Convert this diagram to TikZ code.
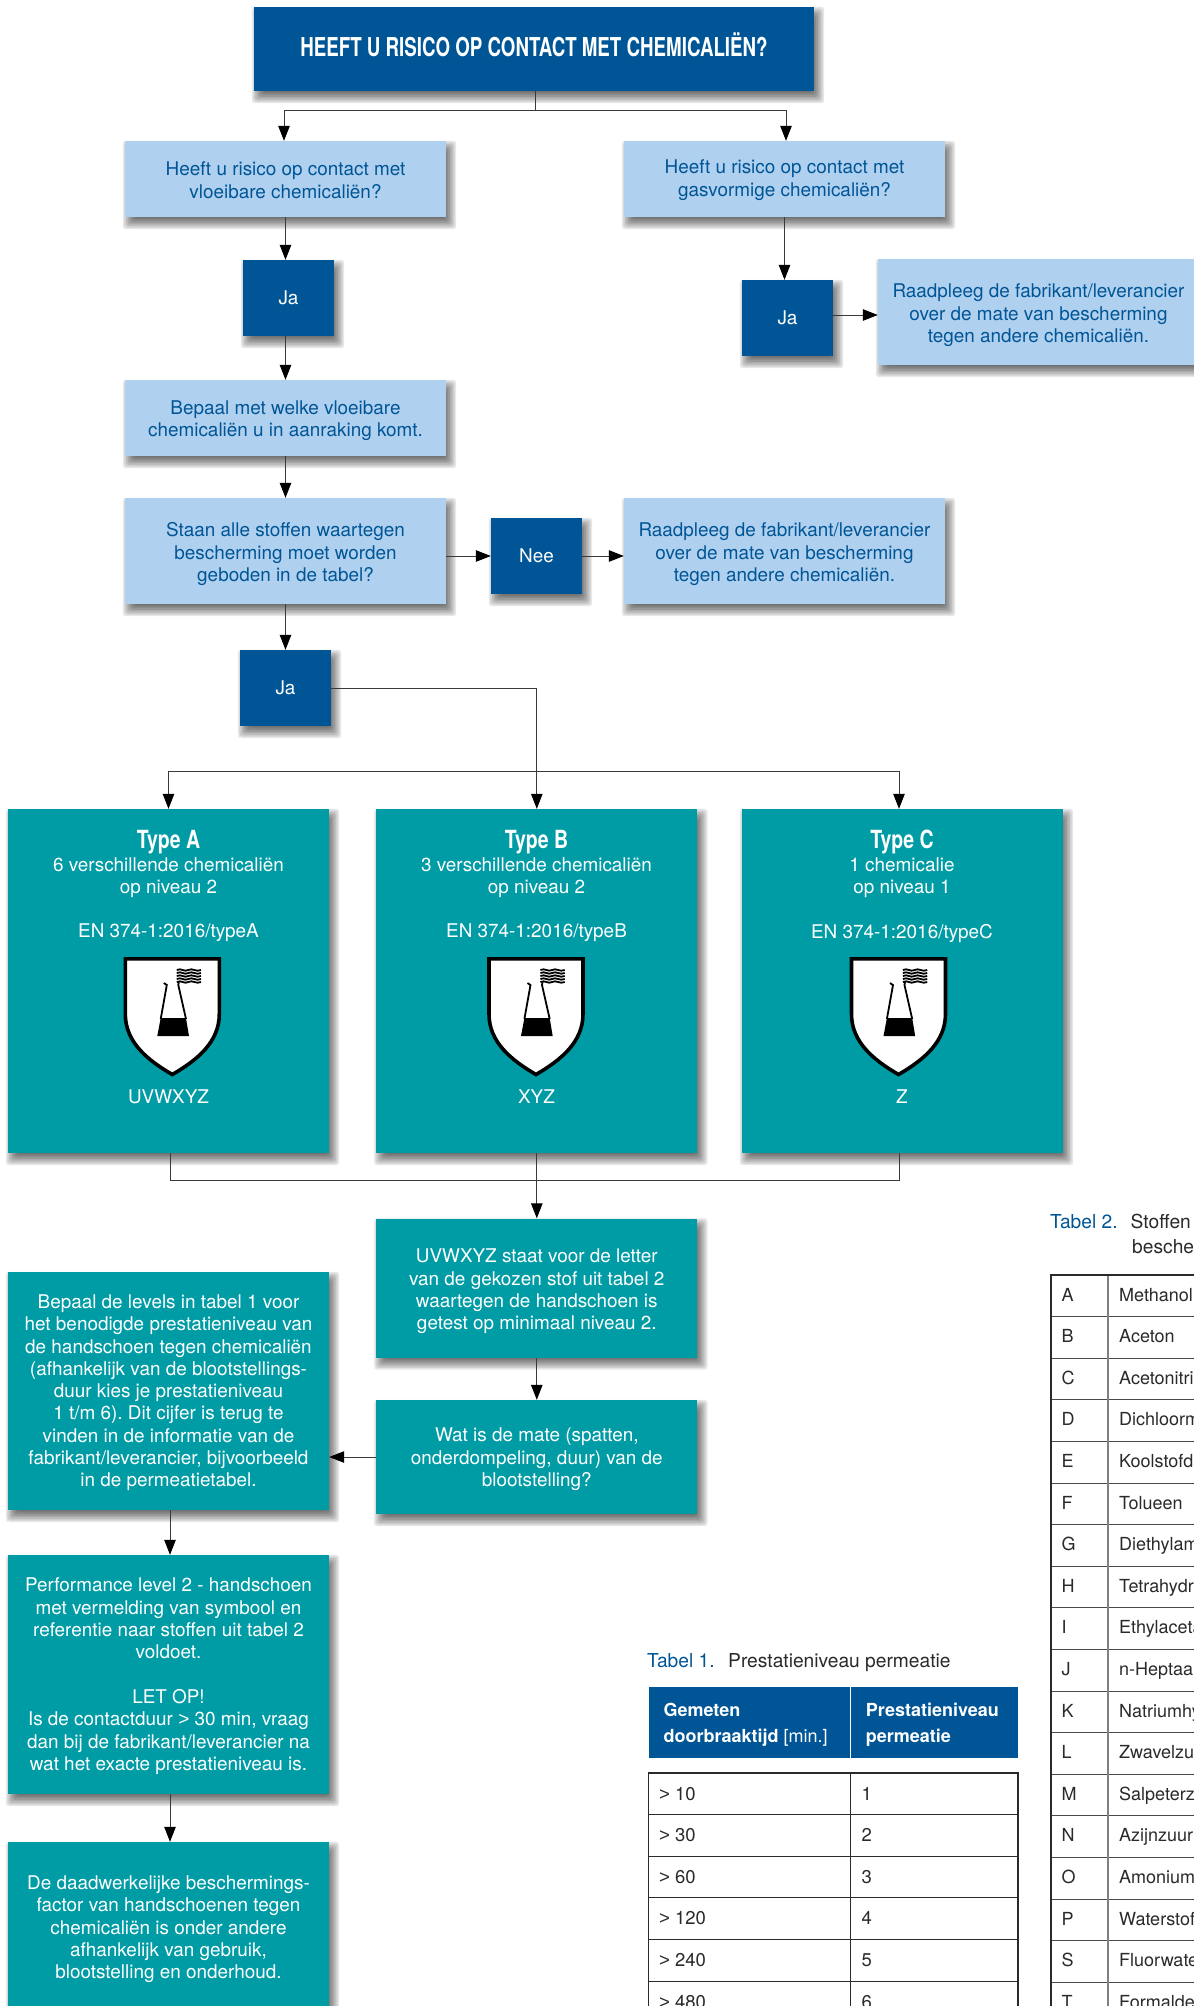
\documentclass[tikz,border=0pt]{standalone}
\usepackage{fontspec}
\setmainfont{TeX Gyre Heros}
\newfontfamily\condfont[FakeStretch=0.72]{TeX Gyre Heros}
\newfontfamily\condheadfont[FakeStretch=0.78]{TeX Gyre Heros}
\newfontfamily\gtfont{Liberation Sans}
\newcommand{\gtsym}{{\gtfont >}}
\newcommand{\tpa}{\rule{0pt}{20.5pt}}
\newcommand{\tpb}{\rule{0pt}{18.5pt}}
\newcommand{\tpc}{\rule{0pt}{17.3pt}}
\newcommand{\tpd}{\rule{0pt}{16pt}}
\usetikzlibrary{arrows.meta,calc}
\pgfdeclarelayer{background}
\pgfsetlayers{background,main}
\definecolor{dblue}{HTML}{005596}
\definecolor{lblue}{HTML}{AFD0EF}
\definecolor{teal1}{HTML}{009CA6}
\definecolor{ink}{HTML}{2A2A2A}
\definecolor{linecol}{HTML}{3A3A3A}
\tikzset{
  base/.style={inner sep=0pt,align=center,font=\fontsize{18.9}{22.3}\selectfont},
  titlebox/.style={base,fill=dblue,text=white,minimum width=560pt,minimum height=84pt,text depth=8pt,font=\condfont\bfseries\fontsize{26}{28}\selectfont},
  lightbox/.style={base,fill=lblue,text=dblue,minimum width=321pt},
  janee/.style={base,fill=dblue,text=white,minimum width=91pt,minimum height=76pt},
  tealbox/.style={base,fill=teal1,text=white,minimum width=321pt},
  ontype/.style={inner sep=0pt,align=center,text=white,font=\fontsize{18.9}{22.3}\selectfont},
  typehead/.style={inner sep=0pt,text=white,font=\condheadfont\bfseries\fontsize{25}{28}\selectfont},
  link/.style={draw=linecol,line width=1pt},
  arrow/.style={link,-{Triangle[length=15pt,width=11.5pt,color=black]}},
  capttxt/.style={inner sep=0pt,anchor=base west,text=ink,font=\fontsize{19.2}{22}\selectfont},
  rowtxt/.style={inner sep=0pt,anchor=base west,text=ink,font=\fontsize{18.5}{22}\selectfont},
  nametxt/.style={inner sep=0pt,anchor=base west,text=ink,font=\fontsize{18}{22}\selectfont},
  headtxt/.style={inner sep=0pt,anchor=base west,text=white,font=\bfseries\fontsize{18}{22}\selectfont},
  shieldpic/.pic={
    \draw[fill=white,draw=black,line width=3.6pt,miter limit=10]
      (-47,1.8) -- (47,1.8) -- (47,57) .. controls (47,85) and (25,103) .. (0,117.5)
      .. controls (-25,103) and (-47,85) .. (-47,57) -- cycle;
    \fill[black] (-15,79) -- (16.7,79) -- (13.7,61) -- (-11.6,61) -- cycle;
    \draw[black,line width=1.8pt] (-11.6,62) -- (-5.5,28) -- (-8.5,26);
    \draw[black,line width=1.8pt] (13.7,62) -- (6,28) -- (6.5,25);
    \foreach \yy in {13,16,19,22,25}{
      \draw[black,line width=1.8pt] (4.4,\yy) .. controls (9,\yy-2.5) and (12,\yy+2.5) .. (16,\yy)
        .. controls (20,\yy-2.5) and (24,\yy+2.5) .. (28.7,\yy);
    }
  }
}
\begin{document}
\frenchspacing
\begin{tikzpicture}[x=1pt,y=-1pt]
\useasboundingbox (0,0) rectangle (1194,2006);
\clip (0,0) rectangle (1194,2006);

% flow nodes
\node[titlebox] (title) at (534,49) {HEEFT U RISICO OP CONTACT MET CHEMICALIËN?};
\node[lightbox,minimum height=76pt] (q1) at (285.5,179) {\tpd Heeft u risico op contact met\\vloeibare chemicaliën?};
\node[lightbox,minimum height=76pt] (q2) at (784.5,179) {\tpd Heeft u risico op contact met\\gasvormige chemicaliën?};
\node[janee] (ja1) at (288.5,298) {Ja};
\node[janee] (ja2) at (787.5,318) {Ja};
\node[lightbox,minimum height=106pt] (raad1) at (1038.5,312) {\tpa Raadpleeg de fabrikant/leverancier\\over de mate van bescherming\\tegen andere chemicaliën.};
\node[lightbox,minimum height=76pt] (bepaal) at (285.5,418) {\tpb Bepaal met welke vloeibare\\chemicaliën u in aanraking komt.};
\node[lightbox,minimum height=106pt] (staan) at (285.5,551) {\tpa Staan alle stoffen waartegen\\bescherming moet worden\\geboden in de tabel?};
\node[janee] (nee) at (536.5,556) {Nee};
\node[lightbox,minimum height=106pt] (raad2) at (784.5,551) {\tpa Raadpleeg de fabrikant/leverancier\\over de mate van bescherming\\tegen andere chemicaliën.};
\node[janee] (ja3) at (285.5,688) {Ja};

% type boxes
\node[tealbox,minimum height=344pt] (typeA) at (168.5,981) {};
\node[tealbox,minimum height=344pt] (typeB) at (536.8,981) {};
\node[tealbox,minimum height=344pt] (typeC) at (902.5,981) {};

\node[typehead] (hA) at (168.5,842) {Type A};
\node[ontype] (lA) at (168.5,878) {6 verschillende chemicaliën\\op niveau 2};
\node[ontype] (eA) at (168.5,933) {EN 374-1:2016/typeA};
\pic at (172.3,957) {shieldpic};
\node[ontype] (cA) at (168.5,1097) {UVWXYZ};

\node[typehead] (hB) at (536.5,842) {Type B};
\node[ontype] (lB) at (536.5,878) {3 verschillende chemicaliën\\op niveau 2};
\node[ontype] (eB) at (536.5,933) {EN 374-1:2016/typeB};
\pic at (536,957) {shieldpic};
\node[ontype] (cB) at (536.5,1097) {XYZ};

\node[typehead] (hC) at (902,842) {Type C};
\node[ontype] (lC) at (902,878) {1 chemicalie\\op niveau 1};
\node[ontype] (eC) at (902,933) {EN 374-1:2016/typeC};
\pic at (898.5,957) {shieldpic};
\node[ontype] (cC) at (902,1097) {Z};

\node[tealbox,minimum height=139pt] (boxU) at (536.8,1288) {\tpa UVWXYZ staat voor de letter\\van de gekozen stof uit tabel 2\\waartegen de handschoen is\\getest op minimaal niveau 2.};
\node[tealbox,minimum height=114pt] (boxW) at (536.8,1457) {\tpb Wat is de mate (spatten,\\onderdompeling, duur) van de\\blootstelling?};
\node[tealbox,minimum height=238pt] (levels) at (168.5,1391) {\tpc Bepaal de levels in tabel 1 voor\\het benodigde prestatieniveau van\\de handschoen tegen chemicaliën\\(afhankelijk van de blootstellings-\\duur kies je prestatieniveau\\1 t/m 6). Dit cijfer is terug te\\vinden in de informatie van de\\fabrikant/leverancier, bijvoorbeeld\\in de permeatietabel.};
\node[tealbox,minimum height=239pt] (perf) at (168.5,1674.5) {\tpc Performance level 2 - handschoen\\met vermelding van symbool en\\referentie naar stoffen uit tabel 2\\voldoet.\\[22.3pt]LET OP!\\Is de contactduur \gtsym{} 30 min, vraag\\dan bij de fabrikant/leverancier na\\wat het exacte prestatieniveau is.};
\node[tealbox,minimum height=170pt] (daad) at (168.5,1927) {\tpb De daadwerkelijke beschermings-\\factor van handschoenen tegen\\chemicaliën is onder andere\\afhankelijk van gebruik,\\blootstelling en onderhoud.};

% soft drop shadows, behind everything
\begin{pgfonlayer}{background}
\fill[white] (0,0) rectangle (1194,2006);
\foreach \n in {title,q1,q2,ja1,ja2,raad1,bepaal,staan,nee,raad2,ja3,typeA,typeB,typeC,boxU,boxW,levels,perf,daad}{
  \foreach \k in {0,...,7}{
    \pgfmathsetmacro{\dd}{6-1.6*\k}
    \fill[black,opacity=0.095,rounded corners=3pt] ($(\n.north west)+(4-\dd,6-\dd)$) rectangle ($(\n.south east)+(4+\dd,6+\dd)$);
  }
}
\end{pgfonlayer}

% connectors
\coordinate (split) at (535.5,110.5);
\coordinate (bar) at (536.8,771);
\coordinate (merge) at (536.8,1180);
\draw[link] (title.south -| split) -- (split);
\draw[arrow] (split) -| ([xshift=-1.5pt]q1.north);
\draw[arrow] (split) -| ([xshift=1.5pt]q2.north);
\draw[arrow] (q1.south) -- (q1.south |- ja1.north);
\draw[arrow] (bepaal.north |- ja1.south) -- (bepaal.north);
\draw[arrow] (bepaal.south) -- (staan.north);
\draw[arrow] (q2.south) -- (q2.south |- ja2.north);
\draw[arrow] ([yshift=3pt]ja2.east) -- ([yshift=3pt]ja2.east -| raad1.west);
\draw[arrow] (staan.east |- nee.west) -- (nee.west);
\draw[arrow] (nee.east) -- (nee.east -| raad2.west);
\draw[arrow] (staan.south) -- (ja3.north);
\draw[arrow] (ja3.east) -| (typeB.north);
\draw[arrow] (bar) -| (typeA.north);
\draw[arrow] (bar) -| ([xshift=-3.5pt]typeC.north);
\draw[link] ([xshift=1.5pt]typeA.south) |- (merge);
\draw[link] ([xshift=-3.5pt]typeC.south) |- (merge);
\draw[arrow] (typeB.south) -- (boxU.north);
\draw[arrow] (boxU.south) -- (boxW.north);
\draw[arrow] (boxW.west) -- (boxW.west -| levels.east);
\draw[arrow] ([xshift=1.5pt]levels.south) -- ([xshift=1.5pt]perf.north);
\draw[arrow] ([xshift=1.5pt]perf.south) -- ([xshift=1.5pt]daad.north);

% Tabel 1
\node[capttxt,text=dblue] (t1a) at (647,1667.5) {Tabel 1.};
\node[capttxt] (t1b) at (728,1667.5) {Prestatieniveau permeatie};
\fill[dblue] (648.5,1687) rectangle (1018,1758);
\draw[white,line width=1pt] (850.3,1687) -- (850.3,1758);
\node[headtxt] (h1a) at (663.3,1716.7) {Gemeten};
\node[headtxt] (h1b) at (663.3,1742.7) {doorbraaktijd \mdseries[min.]};
\node[headtxt] (h2a) at (865.7,1716.7) {Prestatieniveau};
\node[headtxt] (h2b) at (865.7,1742.7) {permeatie};
\foreach \i/\a/\b in {0/10/1,1/30/2,2/60/3,3/120/4,4/240/5,5/480/6}{
  \node[rowtxt] (ra\i) at (659,1773+27+41.6*\i) {\gtsym{} \a};
  \node[rowtxt] (rb\i) at (861.5,1773+27+41.6*\i) {\b};
  \draw[ink,line width=1pt] (648.5,1773+41.6*\i) -- (1018,1773+41.6*\i);
}
\draw[ink,line width=1.1pt] (850.3,1773) -- (850.3,2010);
\draw[ink,line width=1.6pt] (648.5,2010) -- (648.5,1773) -- (1018,1773) -- (1018,2010);

% Tabel 2
\node[capttxt,text=dblue] (t2a) at (1050,1228.5) {Tabel 2.};
\node[capttxt] (t2b) at (1130.5,1228.5) {Stoffen};
\node[capttxt] (t2c) at (1132,1253) {besche};
\foreach \i/\a/\b in {0/A/Methanol,1/B/Aceton,2/C/Acetonitril,3/D/Dichloorm,4/E/Koolstofd,5/F/Tolueen,6/G/Diethylam,7/H/Tetrahydro,8/I/Ethylaceta,9/J/n-Heptaan,10/K/Natriumhy,11/L/Zwavelzuu,12/M/Salpeterz,13/N/Azijnzuur,14/O/Amonium,15/P/Waterstof,16/S/Fluorwate,17/T/Formalde}{
  \node[nametxt] (sa\i) at (1061.5,1275+26+41.6*\i) {\a};
  \node[nametxt] (sb\i) at (1119,1275+26+41.6*\i) {\b};
  \draw[ink!85,line width=1pt] (1050.7,1275+41.6*\i) -- (1194,1275+41.6*\i);
}
\draw[gray,line width=2pt] (1108,1275) -- (1108,2010);
\draw[ink,line width=1.6pt] (1050.7,2010) -- (1050.7,1275) -- (1194,1275);
\end{tikzpicture}
\end{document}
